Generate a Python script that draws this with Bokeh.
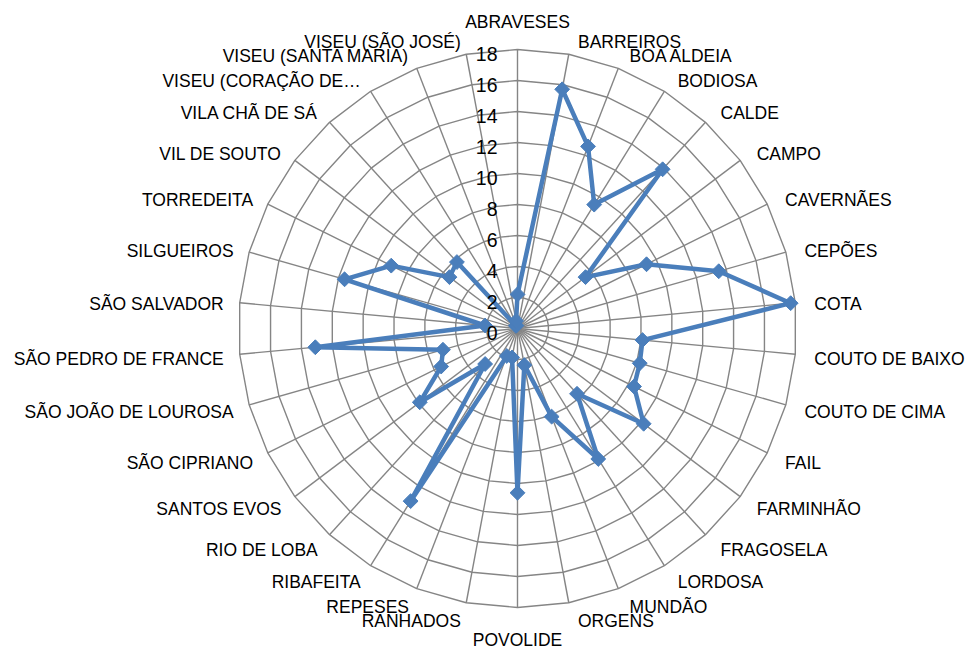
import numpy as np
from bokeh.plotting import figure
from bokeh.models import ColumnDataSource, Range1d
from bokeh.core.properties import value
from bokeh.embed import file_html
from bokeh.resources import INLINE

# Parishes, clockwise from the top
categories = [
    "ABRAVESES", "BARREIROS", "BOA ALDEIA", "BODIOSA", "CALDE", "CAMPO",
    "CAVERNÃES", "CEPÕES", "COTA", "COUTO DE BAIXO", "COUTO DE CIMA", "FAIL",
    "FARMINHÃO", "FRAGOSELA", "LORDOSA", "MUNDÃO", "ORGENS", "POVOLIDE",
    "RANHADOS", "REPESES", "RIBAFEITA", "RIO DE LOBA", "SANTOS EVOS",
    "SÃO CIPRIANO", "SÃO JOÃO DE LOUROSA", "SÃO PEDRO DE FRANCE",
    "SÃO SALVADOR", "SILGUEIROS", "TORREDEITA", "VIL DE SOUTO",
    "VILA CHÃ DE SÁ", "VISEU (CORAÇÃO DE…", "VISEU (SANTA MARIA)",
    "VISEU (SÃO JOSÉ)",
]
values = [
    2.2, 15.7, 12.6, 9.4, 13.9, 5.5,
    9.3, 13.5, 17.7, 8.1, 8.2, 8.4,
    10.2, 5.7, 9.9, 6.1, 2.4, 10.6,
    1.9, 1.9, 13.1, 3.1, 7.9,
    5.5, 5.0, 13.1,
    2.1, 11.6, 9.1, 5.5,
    5.8, 0.2, 0.2,
    0.5,
]
ticks = [0, 2, 4, 6, 8, 10, 12, 14, 16, 18]

# Canvas geometry
W, H = 976, 652
CX, CY = 517, 328          # pixel position of the radar centre
PX = 15.5                  # pixels per unit of value
R_MAX = ticks[-1]

FONT = value("Liberation Sans")
GRID = "#858585"
BLUE = "#4A7EBB"

n = len(categories)
theta = 2 * np.pi * np.arange(n) / n
sin_t, cos_t = np.sin(theta), np.cos(theta)

p = figure(
    width=W, height=H,
    x_range=Range1d(-CX / PX, (W - CX) / PX),
    y_range=Range1d(-(H - CY) / PX, CY / PX),
    output_backend="svg", toolbar_location=None,
    x_axis_location=None, y_axis_location=None,
    min_border=0,
)
p.grid.visible = False
p.outline_line_color = None
p.background_fill_color = "white"
p.border_fill_color = "white"

# Polygonal rings, one per tick value
ring_xs, ring_ys = [], []
for t in ticks[1:]:
    ring_xs.append(list(t * sin_t) + [t * sin_t[0]])
    ring_ys.append(list(t * cos_t) + [t * cos_t[0]])
p.multi_line(ring_xs, ring_ys, line_color=GRID, line_width=1.4)

# Spokes
p.segment(x0=np.zeros(n), y0=np.zeros(n), x1=R_MAX * sin_t, y1=R_MAX * cos_t,
          line_color=GRID, line_width=1.4)

# Series
vals = np.array(values)
px_ = vals * sin_t
py_ = vals * cos_t
p.line(list(px_) + [px_[0]], list(py_) + [py_[0]], line_color=BLUE,
       line_width=4.5, line_join="round")
p.scatter(px_, py_, marker="square", angle=np.pi / 4, size=10.5,
          fill_color=BLUE, line_color=BLUE)

# Value ticks along the vertical spoke
p.text(x=[0] * len(ticks), y=ticks, text=[str(t) for t in ticks],
       text_align="right", text_baseline="middle", x_offset=-20, y_offset=4,
       text_font=FONT, text_font_size="19.5px", text_color="#000000")

# Category labels
aligns, xo, yo = [], [], []
for s, c in zip(sin_t, cos_t):
    if abs(s) < 0.05:
        aligns.append("center")
        xo.append(0.0)
        yo.append(-c * 30 + 2)
    elif s > 0:
        aligns.append("left")
        xo.append(7 + 12 * s)
        yo.append(-c * 16 + 3)
    else:
        aligns.append("right")
        xo.append(-(3 + 13 * abs(s)))
        yo.append(-c * 16 + 3)

lab = ColumnDataSource(dict(x=R_MAX * sin_t, y=R_MAX * cos_t, text=categories,
                            align=aligns, xo=xo, yo=yo))
p.text(x="x", y="y", text="text", source=lab, text_align="align",
       text_baseline="middle", x_offset="xo", y_offset="yo",
       text_font=FONT, text_font_size="17.5px", text_color="#000000")

open("out.html", "w").write(file_html(p, INLINE))
